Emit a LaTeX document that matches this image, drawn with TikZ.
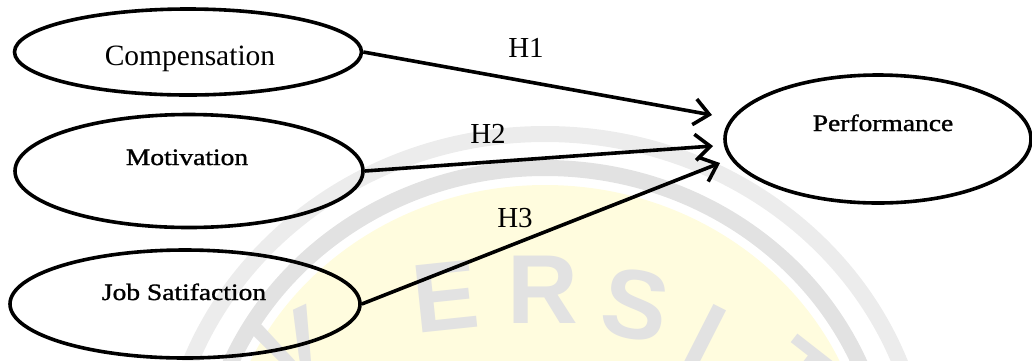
\documentclass[tikz,border=0pt]{standalone}
\usepackage{fontspec}
\setmainfont{Liberation Serif}
\newfontfamily\labelfont{Liberation Serif}[AutoFakeBold=1.2]
\newfontfamily\wmfont{Liberation Sans}
\usetikzlibrary{shapes.geometric,arrows.meta}
\definecolor{wmyellow}{RGB}{255,252,222}
\definecolor{wmgrey}{RGB}{226,226,226}
\definecolor{wmgreylight}{RGB}{236,236,236}
\tikzset{
  oval/.style={ellipse, draw=black, line width=3.6pt, inner sep=0pt},
  hyp/.style={draw=black, line width=3.6pt, -{Straight Barb[length=15pt,width=26pt]}},
  bigtxt/.style={font=\fontsize{29.5}{34}\selectfont, inner sep=0pt, anchor=base},
  smalltxt/.style={font=\labelfont\bfseries\fontsize{23.5}{28}\selectfont, inner sep=0pt, anchor=base},
  hlbl/.style={font=\fontsize{29}{34}\selectfont, inner sep=0pt, anchor=base},
  wmletter/.style={font=\wmfont\bfseries\fontsize{98}{98}\selectfont, text=wmgrey, inner sep=0pt}
}
\newcommand{\widetext}[1]{\scalebox{1.17}[1]{#1}}
\begin{document}
\begin{tikzpicture}[x=1pt,y=-1pt]
\useasboundingbox (0,0) rectangle (1032,360);

% faint seal in the background
\begin{scope}
  \clip (0,0) rectangle (1032,360);
  \fill[wmyellow] (545,490) ellipse [x radius=325pt, y radius=305pt];
  \draw[wmgrey, line width=16pt] (545,490) ellipse [x radius=342pt, y radius=322pt];
  \draw[wmgreylight, line width=16pt] (545,490) ellipse [x radius=380pt, y radius=356pt];
  \node[wmletter, rotate=25]  (wV) at (292,348) {V};
  \node[wmletter, rotate=6]   (wE) at (445,297) {E};
  \node[wmletter, rotate=0]   (wR) at (543,290) {R};
  \node[wmletter, rotate=-10] (wS) at (636,305) {S};
  \node[wmletter, rotate=-27] (wI) at (705,338) {I};
  \node[wmletter, rotate=-38] (wT) at (800,378) {T};
\end{scope}

% constructs
\node[oval, minimum width=347pt, minimum height=86pt]  (comp) at (188,52)  {};
\node[oval, minimum width=348pt, minimum height=113pt] (moti) at (189,171) {};
\node[oval, minimum width=350pt, minimum height=108pt] (jobs) at (185,304) {};
\node[oval, minimum width=306pt, minimum height=128pt] (perf) at (878,139) {};

\node[bigtxt]   (compT) at (190,65)  {Compensation};
\node[smalltxt] (motiT) at (187,165) {\widetext{Motivation}};
\node[smalltxt] (jobsT) at (184,300) {\widetext{Job Satifaction}};
\node[smalltxt] (perfT) at (883,131) {\widetext{Performance}};

% hypothesised paths
\coordinate (t1) at (712,115);
\coordinate (t2) at (713,146);
\coordinate (t3) at (720,163);
\draw[hyp] (comp.east) -- (t1);
\draw[hyp] (moti.east) -- (t2);
\draw[hyp] (jobs.east) -- (t3);

\node[hlbl] (h1) at (526,57)  {H1};
\node[hlbl] (h2) at (488,143) {H2};
\node[hlbl] (h3) at (515,227) {H3};
\end{tikzpicture}
\end{document}
